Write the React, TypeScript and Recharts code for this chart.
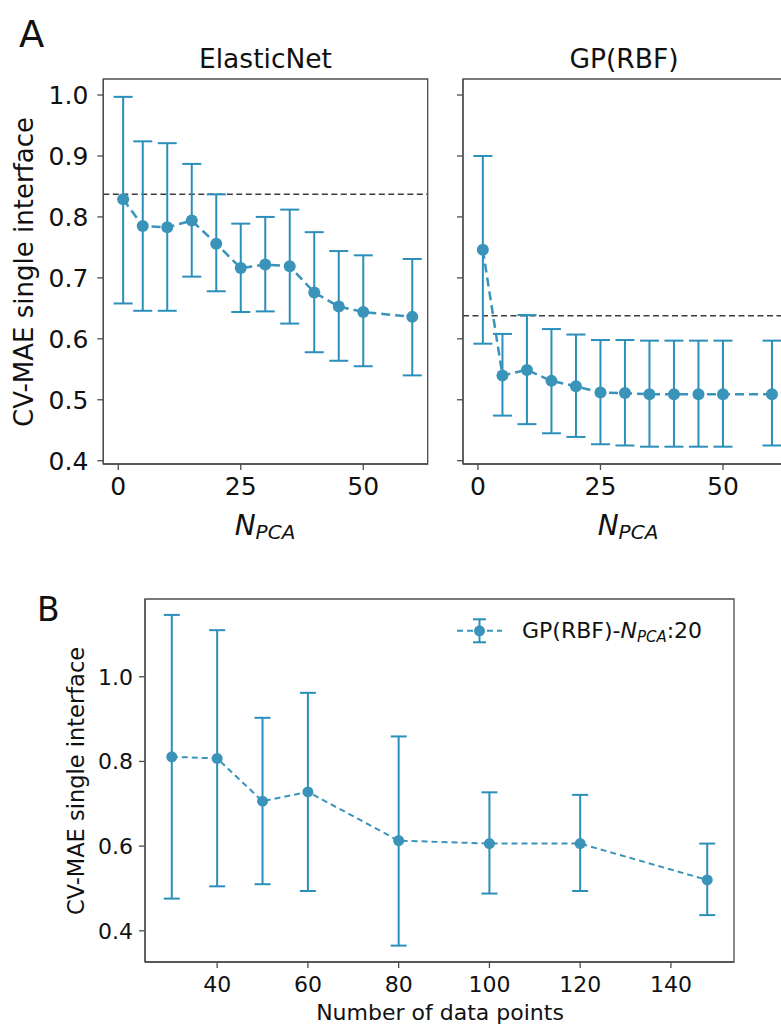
import React from 'react'
import { LineChart, Line, XAxis, YAxis, ErrorBar, ReferenceLine, ReferenceArea, Legend } from 'recharts'

// panel A: CV error vs number of PCA components
const N_PCA = [1, 5, 10, 15, 20, 25, 30, 35, 40, 45, 50, 60]
const ENET_MEAN = [0.829, 0.785, 0.783, 0.794, 0.756, 0.716, 0.722, 0.719, 0.676, 0.653, 0.644, 0.636]
const ENET_LOW = [0.658, 0.646, 0.646, 0.702, 0.678, 0.644, 0.645, 0.625, 0.578, 0.564, 0.555, 0.54]
const ENET_HIGH = [0.997, 0.924, 0.921, 0.887, 0.837, 0.789, 0.8, 0.812, 0.775, 0.744, 0.737, 0.731]
const ENET_BASELINE = 0.837

const GP_MEAN = [0.746, 0.54, 0.549, 0.531, 0.522, 0.512, 0.511, 0.509, 0.509, 0.509, 0.509, 0.509]
const GP_LOW = [0.592, 0.474, 0.46, 0.445, 0.439, 0.427, 0.425, 0.423, 0.423, 0.423, 0.423, 0.425]
const GP_HIGH = [0.9, 0.608, 0.639, 0.616, 0.607, 0.598, 0.598, 0.597, 0.597, 0.597, 0.597, 0.597]
const GP_BASELINE = 0.638

const A_X_TICKS = [0, 25, 50]
const A_Y_TICKS = [0.4, 0.5, 0.6, 0.7, 0.8, 0.9, 1.0]

// panel B: CV error vs training set size
const N_POINTS = [30, 40, 50, 60, 80, 100, 120, 148]
const B_MEAN = [0.811, 0.807, 0.706, 0.728, 0.613, 0.606, 0.606, 0.52]
const B_LOW = [0.476, 0.505, 0.51, 0.494, 0.365, 0.488, 0.494, 0.437]
const B_HIGH = [1.146, 1.11, 0.903, 0.962, 0.859, 0.727, 0.721, 0.606]

const B_X_TICKS = [40, 60, 80, 100, 120, 140]
const B_Y_TICKS = [0.4, 0.6, 0.8, 1.0]

const LINE_COLOR = '#3a94b9'
const ERR_COLOR = '#2a8fba'
const AXIS_COLOR = '#4d4d4d'
const TEXT_COLOR = '#111'
const FONT = '"DejaVu Sans", sans-serif'

const A_X_DOMAIN: [number, number] = [-3.05, 63.15]
const A_Y_DOMAIN: [number, number] = [0.3946, 1.0263]
const B_X_DOMAIN: [number, number] = [24.1, 153.9]
const B_Y_DOMAIN: [number, number] = [0.3263, 1.1836]

const toRows = (xs: number[], mean: number[], lo: number[], hi: number[]) =>
  xs.map((x, i) => ({ x, y: mean[i], err: [mean[i] - lo[i], hi[i] - mean[i]] }))

const fmt1 = (v: number) => v.toFixed(1)

// axes get 1px of size (recharts skips axes of size 0), margins are reduced by 1 to compensate
function PcaPanel({ data, baseline, width, margin, showYLabels }: any) {
  return (
    <LineChart width={width} height={540} data={data} margin={margin}>
      <XAxis
        type="number"
        dataKey="x"
        domain={A_X_DOMAIN}
        ticks={A_X_TICKS}
        allowDataOverflow
        height={1}
        tickSize={6}
        tickMargin={7}
        stroke={AXIS_COLOR}
        strokeWidth={1.3}
        tick={{ fontSize: 25, fill: TEXT_COLOR, fontFamily: FONT }}
      />
      <YAxis
        type="number"
        domain={A_Y_DOMAIN}
        ticks={A_Y_TICKS}
        allowDataOverflow
        width={1}
        tickSize={6}
        tickMargin={9}
        stroke={AXIS_COLOR}
        strokeWidth={1.3}
        tickFormatter={showYLabels ? fmt1 : () => ''}
        tick={{ fontSize: 25, fill: TEXT_COLOR, fontFamily: FONT }}
      />
      <ReferenceArea
        x1={A_X_DOMAIN[0]}
        x2={A_X_DOMAIN[1]}
        y1={A_Y_DOMAIN[0]}
        y2={A_Y_DOMAIN[1]}
        fill="none"
        stroke={AXIS_COLOR}
        strokeWidth={1.3}
        ifOverflow="visible"
      />
      <ReferenceLine y={baseline} stroke="#3d3d3d" strokeDasharray="6 3.5" strokeWidth={1.5} />
      <Line
        dataKey="y"
        stroke={LINE_COLOR}
        strokeWidth={2.5}
        strokeDasharray="9 5"
        dot={{ r: 6, fill: LINE_COLOR, stroke: 'none', strokeWidth: 0 }}
        isAnimationActive={false}
      >
        <ErrorBar dataKey="err" direction="y" width={9.5} strokeWidth={2} stroke={ERR_COLOR} />
      </Line>
    </LineChart>
  )
}

function BLegend() {
  return (
    <svg width={280} height={32} style={{ display: 'block' }}>
      <line x1={1} y1={15.8} x2={46} y2={15.8} stroke={LINE_COLOR} strokeWidth={2} strokeDasharray="6 4" />
      <line x1={23.5} y1={4.3} x2={23.5} y2={27.3} stroke={ERR_COLOR} strokeWidth={2} />
      <line x1={17} y1={4.3} x2={30} y2={4.3} stroke={ERR_COLOR} strokeWidth={2} />
      <line x1={17} y1={27.3} x2={30} y2={27.3} stroke={ERR_COLOR} strokeWidth={2} />
      <circle cx={23.5} cy={15.8} r={5.5} fill={LINE_COLOR} />
      <text x={66} y={23.3} fontSize={22} fill={TEXT_COLOR} fontFamily={FONT}>
        GP(RBF)-<tspan fontStyle="italic">N</tspan>
        <tspan fontStyle="italic" fontSize={15} dy={4}>PCA</tspan>
        <tspan dy={-4}>:20</tspan>
      </text>
    </svg>
  )
}

function SizePanel() {
  const data = toRows(N_POINTS, B_MEAN, B_LOW, B_HIGH)
  return (
    <LineChart width={781} height={465} data={data} margin={{ top: 39, left: 144, right: 47, bottom: 62 }}>
      <XAxis
        type="number"
        dataKey="x"
        domain={B_X_DOMAIN}
        ticks={B_X_TICKS}
        allowDataOverflow
        height={1}
        tickSize={6}
        tickMargin={8}
        stroke={AXIS_COLOR}
        strokeWidth={1.3}
        tick={{ fontSize: 22, fill: TEXT_COLOR, fontFamily: FONT }}
      />
      <YAxis
        type="number"
        domain={B_Y_DOMAIN}
        ticks={B_Y_TICKS}
        allowDataOverflow
        width={1}
        tickSize={6}
        tickMargin={6}
        stroke={AXIS_COLOR}
        strokeWidth={1.3}
        tickFormatter={fmt1}
        tick={{ fontSize: 22, fill: TEXT_COLOR, fontFamily: FONT }}
      />
      <ReferenceArea
        x1={B_X_DOMAIN[0]}
        x2={B_X_DOMAIN[1]}
        y1={B_Y_DOMAIN[0]}
        y2={B_Y_DOMAIN[1]}
        fill="none"
        stroke={AXIS_COLOR}
        strokeWidth={1.3}
        ifOverflow="visible"
      />
      <Legend
        layout="horizontal"
        verticalAlign="middle"
        align="center"
        content={() => <BLegend />}
        wrapperStyle={{ left: 456, top: 55, width: 280, height: 32 }}
      />
      <Line
        dataKey="y"
        name="GP(RBF)-NPCA:20"
        stroke={LINE_COLOR}
        strokeWidth={2}
        strokeDasharray="6 4"
        dot={{ r: 5.5, fill: LINE_COLOR, stroke: 'none', strokeWidth: 0 }}
        isAnimationActive={false}
      >
        <ErrorBar dataKey="err" direction="y" width={8} strokeWidth={2} stroke={ERR_COLOR} />
      </Line>
    </LineChart>
  )
}

function NpcaLabel({ x, y }: { x: number; y: number }) {
  return (
    <text x={x} y={y} textAnchor="middle" fontSize={28} fontStyle="italic" fill={TEXT_COLOR} fontFamily={FONT}>
      N<tspan fontSize={20} dy={4}>PCA</tspan>
    </text>
  )
}

export default function App() {
  const enet = toRows(N_PCA, ENET_MEAN, ENET_LOW, ENET_HIGH)
  const gp = toRows(N_PCA, GP_MEAN, GP_LOW, GP_HIGH)

  return (
    <div
      style={{
        position: 'absolute',
        left: 0,
        top: 0,
        width: 781,
        height: 1025,
        overflow: 'hidden',
        background: '#fff',
        fontFamily: FONT,
      }}
    >
      <div style={{ position: 'absolute', left: 0, top: 0 }}>
        <PcaPanel
          data={enet}
          baseline={ENET_BASELINE}
          width={440}
          margin={{ top: 79, left: 102.3, right: 12.3, bottom: 75 }}
          showYLabels
        />
      </div>
      <div style={{ position: 'absolute', left: 440, top: 0 }}>
        <PcaPanel
          data={gp}
          baseline={GP_BASELINE}
          width={360}
          margin={{ top: 79, left: 22, right: 12.6, bottom: 75 }}
          showYLabels={false}
        />
      </div>
      <div style={{ position: 'absolute', left: 0, top: 560 }}>
        <SizePanel />
      </div>

      <svg
        width={781}
        height={1025}
        style={{ position: 'absolute', left: 0, top: 0, pointerEvents: 'none' }}
        fontFamily={FONT}
      >
        <text x={19} y={47} fontSize={37} fill={TEXT_COLOR}>A</text>
        <text x={265.5} y={68} fontSize={26.5} textAnchor="middle" fill={TEXT_COLOR}>ElasticNet</text>
        <text x={624} y={68} fontSize={26.5} textAnchor="middle" fill={TEXT_COLOR}>GP(RBF)</text>
        <text
          transform="translate(33,272) rotate(-90)"
          fontSize={26}
          textAnchor="middle"
          fill={TEXT_COLOR}
        >
          CV-MAE single interface
        </text>
        <NpcaLabel x={265} y={535} />
        <NpcaLabel x={628} y={535} />

        <text x={37} y={621} fontSize={33} fill={TEXT_COLOR}>B</text>
        <text
          transform="translate(84,781) rotate(-90)"
          fontSize={22.5}
          textAnchor="middle"
          fill={TEXT_COLOR}
        >
          CV-MAE single interface
        </text>
        <text x={440} y={1020} fontSize={22} textAnchor="middle" fill={TEXT_COLOR}>
          Number of data points
        </text>
      </svg>
    </div>
  )
}
